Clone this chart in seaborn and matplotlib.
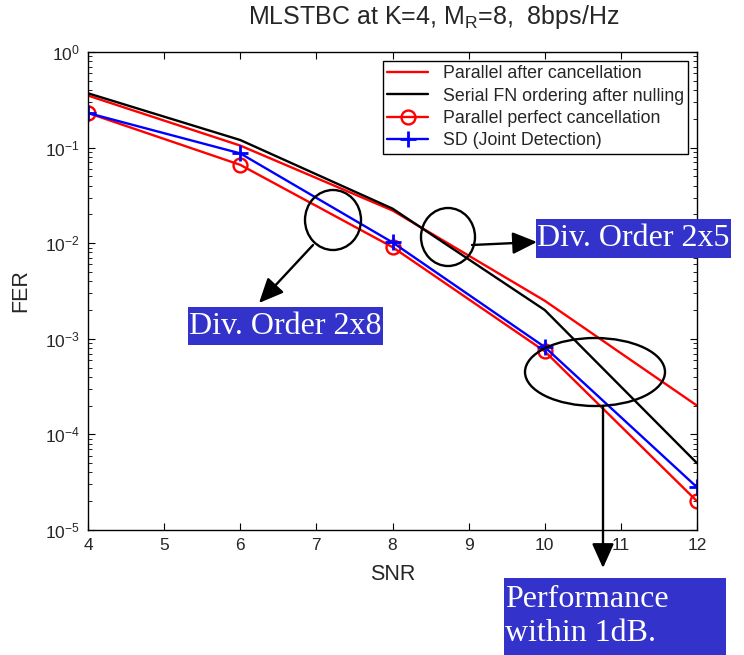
import numpy as np
import pandas as pd
import matplotlib
matplotlib.use("Agg")
import matplotlib.pyplot as plt
import seaborn as sns
from matplotlib.patches import Ellipse, Rectangle, FancyArrowPatch
from matplotlib.ticker import LogLocator, FixedLocator

# values
snr = [4, 6, 8, 10, 12]
par_after_cancel = [0.35, 0.105, 0.022, 0.0025, 2.0e-4]
serial_fn = [0.37, 0.12, 0.023, 0.0020, 5.0e-5]
par_perfect = [0.23, 0.066, 0.0091, 7.4e-4, 2.0e-5]
sd_joint = [0.23, 0.087, 0.0102, 8.2e-4, 2.8e-5]

labels = ['Parallel after cancellation', 'Serial FN ordering after nulling',
          'Parallel perfect cancellation', 'SD (Joint Detection)']

sns.set_style('ticks')
plt.rcParams['font.family'] = ['Liberation Sans', 'DejaVu Sans']
plt.rcParams['mathtext.fontset'] = 'custom'
plt.rcParams['mathtext.rm'] = 'Liberation Sans'
plt.rcParams['mathtext.it'] = 'Liberation Sans'

fig = plt.figure(figsize=(7.44, 6.55), dpi=100)
ax = fig.add_axes([88 / 744, 1 - 530 / 655, (697 - 88) / 744, (530 - 52) / 655])

df = pd.DataFrame({'snr': snr, 'a': par_after_cancel, 'b': serial_fn,
                   'c': par_perfect, 'd': sd_joint})

sns.lineplot(data=df, x='snr', y='a', color='red', lw=1.7, label=labels[0], ax=ax)
sns.lineplot(data=df, x='snr', y='b', color='black', lw=1.7, label=labels[1], ax=ax)
sns.lineplot(data=df, x='snr', y='c', color='red', lw=1.7, marker='o', markersize=10,
             markerfacecolor='none', markeredgecolor='red', markeredgewidth=1.7,
             label=labels[2], ax=ax)
sns.lineplot(data=df, x='snr', y='d', color='blue', lw=1.7, marker='+', markersize=12,
             markeredgecolor='blue', markeredgewidth=2.0, label=labels[3], ax=ax)

ax.set_yscale('log')
ax.set_xlim(4, 12)
ax.set_ylim(1e-5, 1)
ax.xaxis.set_major_locator(FixedLocator(range(4, 13)))
ax.yaxis.set_major_locator(LogLocator(base=10, numticks=10))
ax.yaxis.set_minor_locator(LogLocator(base=10, subs=np.arange(2, 10), numticks=20))
ax.tick_params(which='both', direction='in', top=True, right=True, labelsize=12.5,
               color='black')
ax.tick_params(which='major', length=5, pad=6)
ax.tick_params(which='minor', length=3)
for s in ax.spines.values():
    s.set_color('black')
    s.set_linewidth(1.0)

ax.set_xlabel('SNR', fontsize=15.5, labelpad=8)
ax.set_ylabel('FER', fontsize=15.5, labelpad=10)
ax.set_title('MLSTBC at K=4, M$_R$=8,  8bps/Hz', fontsize=18, pad=20, x=0.568)

leg = ax.legend(loc='upper right', fontsize=12.8, frameon=True, fancybox=False,
                edgecolor='black', framealpha=1, handlelength=2.3,
                borderaxespad=0.5, borderpad=0.25, labelspacing=0.3)
leg.get_frame().set_linewidth(1.0)


# annotation helpers in figure pixel coords
def fx(px):
    return px / 744


def fy(py):
    return 1 - py / 655


def ring(cx, cy, w, h):
    fig.add_artist(Ellipse((fx(cx), fy(cy)), w / 744, h / 655, transform=fig.transFigure,
                           fill=False, ec='black', lw=1.7, clip_on=False))


def arrow(x0, y0, x1, y1):
    fig.add_artist(FancyArrowPatch(
        (fx(x0), fy(y0)), (fx(x1), fy(y1)), transform=fig.transFigure,
        arrowstyle='-|>,head_length=1.0,head_width=0.45', mutation_scale=15,
        color='black', lw=1.7, shrinkA=0, shrinkB=0))


def label_box(x0, y0, x1, y1, text, tx=None):
    fig.add_artist(Rectangle((fx(x0), fy(y1)), (x1 - x0) / 744, (y1 - y0) / 655,
                             transform=fig.transFigure, fc='#3333cc', ec='none',
                             zorder=5))
    if tx is None:
        fig.text(fx((x0 + x1) / 2), fy((y0 + y1) / 2), text, color='white', fontsize=23,
                 family=['Liberation Serif', 'DejaVu Serif'], ha='center',
                 va='center', zorder=6)
    else:
        fig.text(fx(tx), fy((y0 + y1) / 2), text, color='white', fontsize=23,
                 family=['Liberation Serif', 'DejaVu Serif'], ha='left',
                 va='center', linespacing=1.2, zorder=6)


ring(333, 220, 56, 60)
arrow(313, 245, 259, 303)
label_box(188, 307, 383, 345, 'Div. Order 2x8')

ring(448, 237, 54, 58)
arrow(472, 245, 537, 242)
label_box(536, 219, 731, 258, 'Div. Order 2x5')

ring(595, 372, 140, 68)
arrow(603, 406, 603, 568)
label_box(504, 578, 726, 655, 'Performance\nwithin 1dB.', tx=505)

fig.savefig('out.png', dpi=100)
